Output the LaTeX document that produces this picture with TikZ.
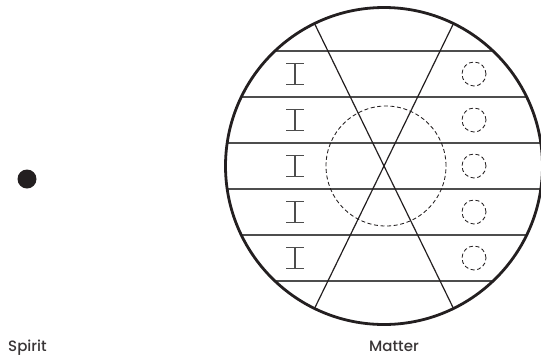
\documentclass[tikz,border=0pt]{standalone}
\usepackage{fontspec}
\setmainfont{Poppins}[UprightFont=* Medium]
\usetikzlibrary{positioning}
\definecolor{ink}{HTML}{231F20}
\definecolor{rule}{HTML}{4D4D4D}
\tikzset{
  every picture/.style={line join=round, line cap=butt},
  rim/.style={line width=2.8pt, draw=ink},
  band/.style={line width=1.5pt, draw=rule},
  ray/.style={line width=1.2pt, draw=ink},
  hole/.style={dash pattern=on 4pt off 2.6pt, line width=0.85pt, draw=ink},
  beam/.style={line width=1.2pt, draw=rule},
  caption/.style={font=\fontsize{15}{18}\selectfont, text=ink!90, inner sep=0pt},
}
\begin{document}
\begin{tikzpicture}[x=1pt,y=-1pt]
\useasboundingbox (0,0) rectangle (541,357);
% spirit
\node[circle, fill=ink, minimum size=19pt, inner sep=0pt] (spirit) at (27,179) {};
% matter
\node[circle, minimum size=317pt, inner sep=0pt, outer sep=0pt] (matter) at (384,166) {};
\begin{scope}
  \clip (matter.center) circle[radius=158.5pt];
  \foreach \y in {-115,-69,-23,23,69,115}{\draw[band] (200,166+\y) -- (570,166+\y);}
\end{scope}
\draw[ray] (matter.116) -- (matter.296);
\draw[ray] (matter.64) -- (matter.244);
\draw[hole] (386,166) circle[radius=60pt];
\foreach \y in {-92,-46,0,46,92}{
  \draw[beam] (286,166+\y-10.5) -- (304,166+\y-10.5);
  \draw[beam] (295,166+\y-10.5) -- (295,166+\y+10.5);
  \draw[beam] (286,166+\y+10.5) -- (304,166+\y+10.5);
  \draw[hole] (474,166+\y) circle[radius=12pt];
}
\draw[rim] (matter.center) circle[radius=158.5pt];
% labels
\node[caption, anchor=base west] (spiritlabel) at (8,351) {Spirit};
\node[caption, anchor=base] (matterlabel) at (394,351) {Matter};
\end{tikzpicture}
\end{document}
